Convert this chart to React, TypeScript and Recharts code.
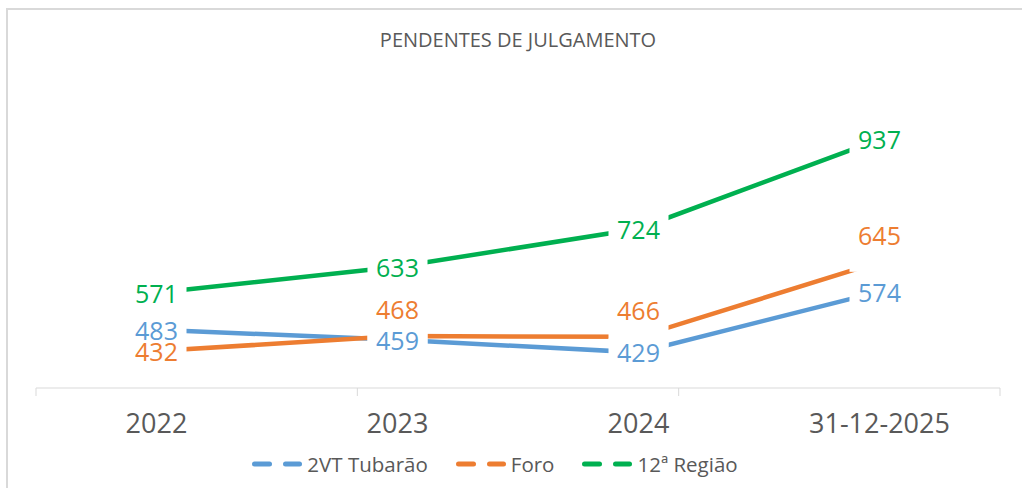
import React from 'react';
import { LineChart, Line, XAxis, YAxis, Legend } from 'recharts';

const categories = ['2022', '2023', '2024', '31-12-2025'];
const tubarao = [483, 459, 429, 574];
const foro = [432, 468, 466, 645];
const regiao = [571, 633, 724, 937];
const foroLabelAbove = [false, true, true, true];
const boundaryTicks = [0, 1, 2, 3, 4];

const seriesNames = ['2VT Tubarão', 'Foro', '12ª Região'];
const colors = ['#5b9bd5', '#ed7d31', '#00b050'];

const data = categories.map((cat, i) => ({
  cat,
  tubarao: tubarao[i],
  foro: foro[i],
  regiao: regiao[i],
}));

const FONT = "'Open Sans', sans-serif";
const TEXT = '#595959';
const ABOVE = 27;

const makeBox = (above?: boolean[]) => (props: any) => {
  const { x, y, index } = props;
  if (x == null || y == null) return null;
  const up = above ? above[index] : false;
  const top = up ? y - ABOVE - 14 : y - 14;
  const bottom = up ? y + 10 : y + 14;
  return <rect x={x - 30} y={top} width={60} height={bottom - top} fill="#ffffff" />;
};

const makeText = (color: string, above?: boolean[]) => (props: any) => {
  const { x, y, index, value } = props;
  if (x == null || y == null) return null;
  const up = above ? above[index] : false;
  return (
    <text
      x={x}
      y={up ? y - ABOVE : y}
      textAnchor="middle"
      dominantBaseline="central"
      fill={color}
      fontSize={25}
      fontFamily={FONT}
    >
      {value}
    </text>
  );
};

const CatTick = (props: any) => {
  const { x, y, payload } = props;
  return (
    <text x={x} y={y + 31} textAnchor="middle" dominantBaseline="central" fill={TEXT} fontSize={27} fontFamily={FONT}>
      {payload.value}
    </text>
  );
};

const EmptyTick = () => <g />;

const renderLegend = () => (
  <div
    style={{
      display: 'flex',
      justifyContent: 'center',
      alignItems: 'center',
      height: 40,
      transform: 'translateX(-23px)',
      fontFamily: FONT,
      fontSize: 20.5,
      color: TEXT,
    }}
  >
    {seriesNames.map((name, i) => (
      <div key={name} style={{ display: 'flex', alignItems: 'center', marginLeft: i === 0 ? 0 : 28 }}>
        <svg width={50} height={10} style={{ display: 'block' }}>
          <line x1={2.5} y1={5} x2={17.5} y2={5} stroke={colors[i]} strokeWidth={5} strokeLinecap="round" />
          <line x1={33.5} y1={5} x2={47.5} y2={5} stroke={colors[i]} strokeWidth={5} strokeLinecap="round" />
        </svg>
        <span style={{ marginLeft: 5, lineHeight: '40px' }}>{name}</span>
      </div>
    ))}
  </div>
);

const keys = ['tubarao', 'foro', 'regiao'];

export default function App() {
  return (
    <div style={{ position: 'absolute', left: 0, top: 0, width: 1022, height: 488, background: '#fff', overflow: 'hidden' }}>
      <div
        style={{
          position: 'absolute',
          left: 6,
          top: 8,
          width: 1016,
          height: 480,
          borderLeft: '2px solid #d9d9d9',
          borderTop: '2px solid #d9d9d9',
          boxSizing: 'border-box',
        }}
      />
      <div
        style={{
          position: 'absolute',
          left: 318,
          top: 30,
          width: 400,
          textAlign: 'center',
          fontFamily: FONT,
          fontSize: 20,
          lineHeight: '20px',
          color: TEXT,
        }}
      >
        PENDENTES DE JULGAMENTO
      </div>
      <div style={{ position: 'absolute', left: 0, top: 0 }}>
        <LineChart width={1022} height={488} data={data} margin={{ top: 100, right: 22, left: 36, bottom: 4 }}>
          <XAxis
            xAxisId="b"
            type="number"
            domain={[0, 4]}
            ticks={boundaryTicks}
            allowDataOverflow
            height={1}
            tick={<EmptyTick />}
            tickSize={8}
            tickLine={{ stroke: '#d9d9d9' }}
            axisLine={{ stroke: '#d9d9d9' }}
          />
          <XAxis
            xAxisId="c"
            dataKey="cat"
            padding={{ left: 120.5, right: 120.5 }}
            axisLine={false}
            tickLine={false}
            tickSize={0}
            height={55}
            interval={0}
            tick={<CatTick />}
          />
          <YAxis hide domain={[344, 1031]} allowDataOverflow />
          {keys.map((k, i) => (
            <Line
              key={'l' + k}
              xAxisId="c"
              dataKey={k}
              stroke={colors[i]}
              strokeWidth={4.5}
              dot={false}
              activeDot={false}
              isAnimationActive={false}
            />
          ))}
          {keys.map((k, i) => (
            <Line
              key={'b' + k}
              xAxisId="c"
              dataKey={k}
              stroke="none"
              dot={false}
              activeDot={false}
              legendType="none"
              isAnimationActive={false}
              label={makeBox(k === 'foro' ? foroLabelAbove : undefined)}
            />
          ))}
          {keys.map((k, i) => (
            <Line
              key={'t' + k}
              xAxisId="c"
              dataKey={k}
              stroke="none"
              dot={false}
              activeDot={false}
              legendType="none"
              isAnimationActive={false}
              label={makeText(colors[i], k === 'foro' ? foroLabelAbove : undefined)}
            />
          ))}
          <Legend verticalAlign="bottom" height={40} content={renderLegend} />
        </LineChart>
      </div>
    </div>
  );
}
